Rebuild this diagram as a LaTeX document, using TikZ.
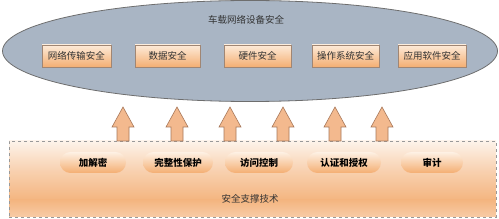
\documentclass[tikz,border=0pt]{standalone}
\usepackage{fontspec}
\setmainfont{Noto Sans CJK SC}
\usetikzlibrary{shapes.geometric}
\definecolor{ellfill}{HTML}{A9B5C4}
\definecolor{ellline}{HTML}{6E6E6E}
\definecolor{boxtop}{HTML}{FDEBD9}
\definecolor{boxbot}{HTML}{F4AE72}
\definecolor{boxline}{HTML}{A08674}
\definecolor{arrfill}{HTML}{F3B98E}
\definecolor{arrline}{HTML}{A8785A}
\definecolor{basetop}{HTML}{FDF3EA}
\definecolor{basemid}{HTML}{F4B580}
\definecolor{txt}{HTML}{333333}
\tikzset{
  secbox/.style={draw=boxline, line width=0.6pt, top color=boxtop, bottom color=boxbot,
    minimum width=67pt, minimum height=22pt, inner sep=0pt, font=\fontsize{9.5}{11}\selectfont, text=txt},
  techpill/.style={rounded corners=10.5pt, top color=boxtop!70!white, bottom color=boxbot,
    minimum height=21pt, inner sep=0pt, font=\fontsize{9.5}{11}\selectfont\bfseries, text=black},
  uparrow/.style={draw=arrline, line width=0.6pt, fill=arrfill}
}
\begin{document}
\begin{tikzpicture}[x=1pt,y=-1pt]
\useasboundingbox (0,0) rectangle (499,219);
% ellipse
\node[ellipse, draw=ellline, line width=0.8pt, fill=ellfill, minimum width=495pt, minimum height=101pt, inner sep=0pt] (ell) at (250,51) {};
\node[font=\fontsize{9.5}{11}\selectfont, text=txt] (title) at (246,20) {车载网络设备安全};
% boxes
\node[secbox, minimum width=69pt] (b1) at (76.5,56) {网络传输安全};
\node[secbox, minimum width=65pt] (b2) at (167.5,56) {数据安全};
\node[secbox, minimum width=67pt] (b3) at (257.5,56) {硬件安全};
\node[secbox, minimum width=67pt] (b4) at (345.5,56) {操作系统安全};
\node[secbox, minimum width=68pt] (b5) at (432,56) {应用软件安全};
% base
\fill[top color=basetop, bottom color=basemid, middle color=basemid!55!basetop] (9,141) rectangle (496,200);
\fill[top color=basemid, bottom color=basemid!70!white] (9,200) rectangle (496,217);
\node[draw=gray!80, dashed, line width=0.6pt, minimum width=487pt, minimum height=76pt, inner sep=0pt] (base) at (252.5,179) {};
% arrows
\foreach \cx/\nm in {123/a1,177/a2,230/a3,283/a4,335/a5,382/a6}{
  \coordinate (\nm) at (\cx,124);
  \draw[uparrow] ([xshift=-6pt,yshift=-17pt]\nm) -- ([xshift=-6pt,yshift=-3pt]\nm) -- ([xshift=-11pt,yshift=-3pt]\nm)
    -- ([yshift=17pt]\nm) -- ([xshift=11pt,yshift=-3pt]\nm) -- ([xshift=6pt,yshift=-3pt]\nm) -- ([xshift=6pt,yshift=-17pt]\nm) -- cycle;
}
% pills
\node[techpill, minimum width=66pt] (p1) at (93,162.5) {加解密};
\node[techpill, minimum width=70pt] (p2) at (178,162.5) {完整性保护};
\node[techpill, minimum width=68pt] (p3) at (259,162.5) {访问控制};
\node[techpill, minimum width=74pt] (p4) at (344,162.5) {认证和授权};
\node[techpill, minimum width=62pt] (p5) at (432,162.5) {审计};
\node[font=\fontsize{9.5}{11}\selectfont, text=txt] (basetitle) at (250,199) {安全支撑技术};
\end{tikzpicture}
\end{document}
